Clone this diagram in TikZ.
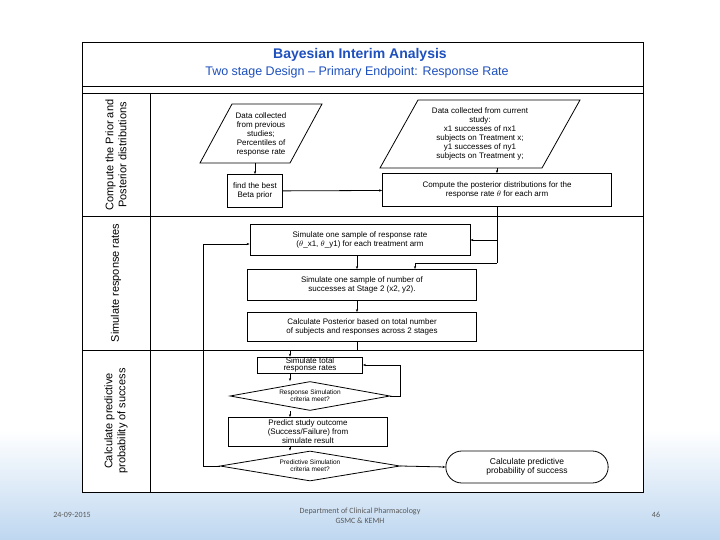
\documentclass[tikz,border=0pt]{standalone}
\usepackage{fontspec}
\setmainfont{Liberation Sans}
\newfontfamily\footfont{Carlito}
\usetikzlibrary{shapes.geometric,shapes.misc,arrows.meta,positioning}
\definecolor{titleblue}{RGB}{30,80,190}
\definecolor{slideblue}{RGB}{190,215,240}
\tikzset{
  box/.style={draw,thick,fill=white,align=center,font=\fontsize{8}{9}\selectfont,inner sep=2pt},
  data/.style={align=center,font=\fontsize{8}{9}\selectfont,inner sep=1pt},
  slant/.style={draw,thick,fill=white},
  decide/.style={diamond,aspect=5.5,draw,thick,fill=white,align=center,font=\fontsize{6.5}{7}\selectfont,inner sep=0pt},
  term/.style={rounded rectangle,draw,thick,fill=white,align=center,font=\fontsize{8.5}{9.5}\selectfont},
  lane/.style={rotate=90,align=center,font=\fontsize{11}{13}\selectfont},
  flow/.style={-{Stealth[length=3pt]},thick}
}
\begin{document}
\begin{tikzpicture}[x=1pt,y=-1pt]
\useasboundingbox (0,0) rectangle (720,540);
\shade[top color=white,bottom color=slideblue] (0,430) rectangle (720,540);
% frame and lanes
\draw[thick,fill=white] (82,42) rectangle (643,492);
\draw[thick] (82,86) -- (643,86) (82,93) -- (643,93);
\draw[thick] (150,93) -- (150,492);
\draw[thick] (82,216) -- (643,216) (82,350) -- (643,350);
\node[titleblue,font=\bfseries\fontsize{14}{15}\selectfont] (title) at (360,55) {Bayesian Interim Analysis};
\node[titleblue,font=\fontsize{12.5}{13}\selectfont] (subtitle) at (357,72) {Two stage Design -- Primary Endpoint: Response Rate};
\node[lane] (lane1) at (116,155) {Compute the Prior and\\Posterior distributions};
\node[lane] (lane2) at (116,283) {Simulate response rates};
\node[lane] (lane3) at (116,421) {Calculate predictive\\probability of success};
% data inputs
\draw[slant] (200,163) -- (232,104) -- (322,104) -- (290,163) -- cycle;
\node[data] (prev) at (261,134) {Data collected\\from previous\\studies;\\Percentiles of\\response rate};
\draw[slant] (380,168) -- (418,100) -- (580,100) -- (542,168) -- cycle;
\node[data] (curr) at (480,134) {Data collected from current\\study:\\x1 successes of nx1\\subjects on Treatment x;\\y1 successes of ny1\\subjects on Treatment y;};
% process nodes
\node[box,minimum width=55pt,minimum height=33pt] (best) at (255,191) {find the best\\Beta prior};
\node[box,minimum width=229pt,minimum height=33pt] (post) at (497,190) {Compute the posterior distributions for the\\response rate $\theta$ for each arm};
\node[box,minimum width=220pt,minimum height=31pt] (sim1) at (360,240) {Simulate one sample of response rate\\($\theta$\_x1, $\theta$\_y1) for each treatment arm};
\node[box,minimum width=229pt,minimum height=31pt] (sim2) at (362,285) {Simulate one sample of number of\\successes at Stage 2 (x2, y2).};
\node[box,minimum width=229pt,minimum height=29pt] (calc) at (362,327) {Calculate Posterior based on total number\\of subjects and responses across 2 stages};
\node[box,minimum width=105pt,minimum height=16pt,inner sep=0pt,font=\fontsize{8}{7.5}\selectfont] (total) at (310,365) {Simulate total\\response rates};
\node[decide,minimum width=160pt,minimum height=29pt] (resp) at (310,396) {Response Simulation\\criteria meet?};
\node[box,minimum width=159pt,minimum height=29pt] (pred) at (308,432) {Predict study outcome\\(Success/Failure) from\\simulate result};
\node[decide,minimum width=180pt,minimum height=30pt] (psim) at (310,466) {Predictive Simulation\\criteria meet?};
\node[term,minimum width=169pt,minimum height=32pt] (prob) at (527,467) {Calculate predictive\\probability of success};
\coordinate (split) at (497,263);
% connectors
\draw[flow] (255,163) -- (best.north);
\draw[flow] (best) -- (post);
\draw[flow] (post.north |- 0,168) -- (post.north);
\draw[thick] (post.south) -- (split);
\draw[flow] (post.south |- sim1.east) -- (sim1.east);
\draw[flow] (split) -| (415,269);
\draw[flow] (sim1.south -| 357,0) -- (sim2.north -| 357,0);
\draw[flow] (sim2.south -| 357,0) -- (calc.north -| 357,0);
\draw[flow] (calc.south -| 357,0) |- (290,350) -- (total.north -| 290,0);
\draw[flow] (total.south -| 290,0) -- (resp.north -| 290,0);
\draw[flow] (resp.east) -| (400,365) -- (total.east);
\draw[flow] (resp.south -| 290,0) -- (pred.north -| 290,0);
\draw[flow] (pred.south -| 290,0) -- (psim.north -| 290,0);
\draw[flow] (psim.west) -| (203,244) -- (sim1.west |- 0,244);
\draw[flow] (psim.east) -- (prob.west);
% footer
\node[gray!70!black,font=\footfont\fontsize{8}{10}\selectfont] (date) at (72,515) {24-09-2015};
\node[gray!70!black,font=\footfont\fontsize{8}{10}\selectfont,align=center] (dept) at (360,516) {Department of Clinical Pharmacology\\GSMC \& KEMH};
\node[gray!70!black,font=\footfont\fontsize{8}{10}\selectfont] (page) at (656,515) {46};
\end{tikzpicture}
\end{document}
